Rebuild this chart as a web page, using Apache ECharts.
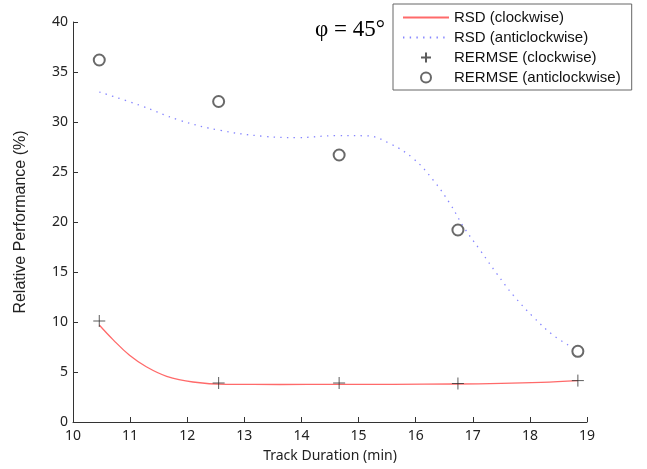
<!DOCTYPE html>
<html>
<head>
<meta charset="utf-8">
<script src="https://cdn.jsdelivr.net/npm/echarts@6/dist/echarts.min.js"></script>
<style>html,body{margin:0;padding:0;background:#fff}#c{width:647px;height:469px}</style>
</head>
<body>
<div id="c"></div>
<script>
// Curve samples
const rsdClockX = [10.46, 10.7, 10.99, 11.29, 11.64, 12.1, 12.69, 13.62, 14.6, 15.6, 16.7, 17.5, 18.2, 18.84];
const rsdClockY = [9.7, 8.24, 6.67, 5.5, 4.57, 4.0, 3.77, 3.75, 3.76, 3.77, 3.8, 3.86, 3.97, 4.14];
const rsdAntiX = [10.46, 11.17, 11.87, 12.57, 13.33, 13.92, 14.62, 15.14, 15.55, 15.96, 16.31, 16.6, 16.84, 17.13, 17.42, 17.71, 18.06, 18.41, 18.82];
const rsdAntiY = [33.0, 31.67, 30.17, 29.17, 28.57, 28.44, 28.64, 28.62, 27.84, 26.34, 24.17, 21.84, 19.5, 17.17, 14.84, 12.67, 10.5, 8.67, 7.2];
// Marker points
const pointX = [10.46, 12.55, 14.66, 16.74, 18.84];
const rermseClockY = [10.1, 3.9, 3.9, 3.85, 4.14];
const rermseAntiY = [36.2, 32.05, 26.7, 19.2, 7.07];
const seriesNames = ['RSD (clockwise)', 'RSD (anticlockwise)', 'RERMSE (clockwise)', 'RERMSE (anticlockwise)'];

const zip = (xs, ys) => xs.map((x, i) => [x, ys[i]]);
const axisColor = '#333';
const chart = echarts.init(document.getElementById('c'), null, {renderer: 'canvas'});
chart.setOption({
  animation: false,
  backgroundColor: '#fff',
  title: {
    text: 'φ = 45°',
    left: 315, top: 18, padding: 0,
    textStyle: {fontFamily: 'Liberation Serif', fontSize: 23, fontWeight: 'normal', color: '#000'}
  },
  grid: {left: 73, right: 60, top: 22, bottom: 47, containLabel: false},
  legend: {
    orient: 'vertical',
    left: 393, top: 4,
    padding: [6, 11, 5, 9],
    itemGap: 5,
    itemWidth: 46, itemHeight: 10,
    borderColor: '#666', borderWidth: 1,
    backgroundColor: '#fff',
    textStyle: {fontFamily: 'Liberation Sans', fontSize: 15, color: '#111'},
    data: seriesNames
  },
  xAxis: {
    type: 'value', min: 10, max: 19, interval: 1,
    name: 'Track Duration (min)', nameLocation: 'middle', nameGap: 27,
    nameTextStyle: {fontFamily: 'Noto Sans', fontSize: 14, color: '#222'},
    axisLine: {show: true, lineStyle: {color: axisColor, width: 1}},
    axisTick: {show: true, inside: true, length: 5, lineStyle: {color: axisColor}},
    axisLabel: {fontFamily: 'Noto Sans', fontSize: 14, color: '#222', margin: 7},
    splitLine: {show: false}
  },
  yAxis: {
    type: 'value', min: 0, max: 40, interval: 5,
    name: 'Relative Performance (%)', nameLocation: 'middle', nameGap: 44,
    nameTextStyle: {fontFamily: 'Liberation Sans', fontSize: 16, color: '#222'},
    axisLine: {show: true, lineStyle: {color: axisColor, width: 1}},
    axisTick: {show: true, inside: true, length: 5, lineStyle: {color: axisColor}},
    axisLabel: {fontFamily: 'Noto Sans', fontSize: 14, color: '#222', margin: 5},
    splitLine: {show: false}
  },
  series: [
    {
      name: seriesNames[0], type: 'line', data: zip(rsdClockX, rsdClockY),
      smooth: 0.4, symbol: 'none',
      lineStyle: {color: '#ff6a6a', width: 1.3},
      itemStyle: {color: 'rgba(0,0,0,0)', borderColor: 'rgba(0,0,0,0)'}, z: 2
    },
    {
      name: seriesNames[1], type: 'line', data: zip(rsdAntiX, rsdAntiY),
      smooth: 0.4, symbol: 'none',
      lineStyle: {color: '#8585ff', width: 1.3, type: [1.4, 5.3]},
      itemStyle: {color: 'rgba(0,0,0,0)', borderColor: 'rgba(0,0,0,0)'}, z: 2
    },
    {
      name: seriesNames[2], type: 'scatter', data: zip(pointX, rermseClockY),
      symbol: 'path://M5,0L5,10M0,5L10,5', symbolSize: 12,
      itemStyle: {color: 'none', borderColor: '#333', borderWidth: 1}, z: 3
    },
    {
      name: seriesNames[3], type: 'scatter', data: zip(pointX, rermseAntiY),
      symbol: 'emptyCircle', symbolSize: 11,
      itemStyle: {color: '#444', borderColor: '#444', borderWidth: 1.1}, z: 3
    }
  ]
});
</script>
</body>
</html>
